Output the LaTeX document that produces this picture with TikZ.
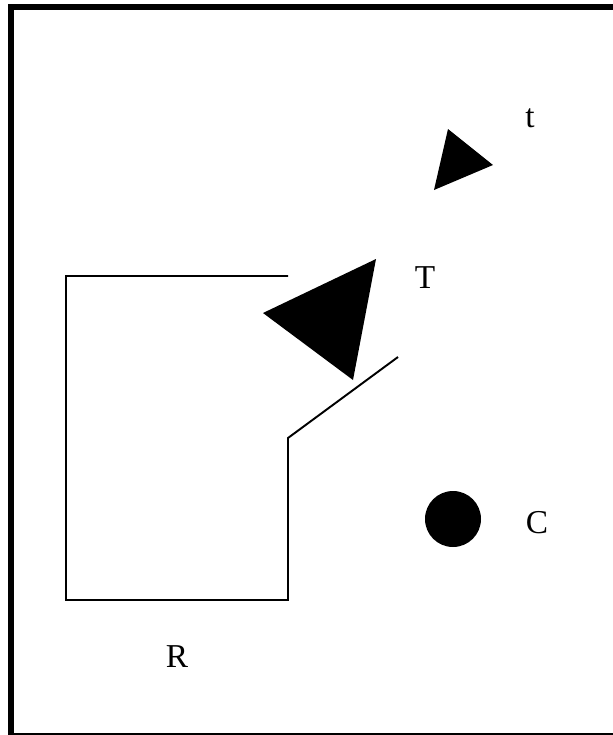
\documentclass[tikz,border=0pt]{standalone}
\usepackage{fontspec}
\setmainfont{Liberation Serif}
\begin{document}
\begin{tikzpicture}[x=0.02cm, y=-0.02cm]

\tikzset{wall/.style={draw=black, line width=1.1pt, line join=miter}}
\tikzset{mylabel/.style={text=black, inner sep=0pt, font=\fontsize{19}{21}\selectfont}}

\useasboundingbox (0,0) rectangle (613,735);
\clip (0,0) rectangle (613,735);
\draw[line width=0.12cm] (11,7) rectangle (618,736);

\draw[wall] (288,276) -- (66,276) -- (66,600) -- (288,600) -- (288,438) -- (398,357);
\fill[black] (376,259) -- (263,313) -- (353,380) -- cycle;
\fill[black] (448,129) -- (493,165) -- (434,190) -- cycle;
\fill[black] (453,519) circle (28);

\node[mylabel] (bigT) at (425,278) {T};
\node[mylabel] (smallt) at (530,118) {t};
\node[mylabel] (labC) at (537,523) {C};
\node[mylabel] (labR) at (177,657) {R};

\end{tikzpicture}
\end{document}
